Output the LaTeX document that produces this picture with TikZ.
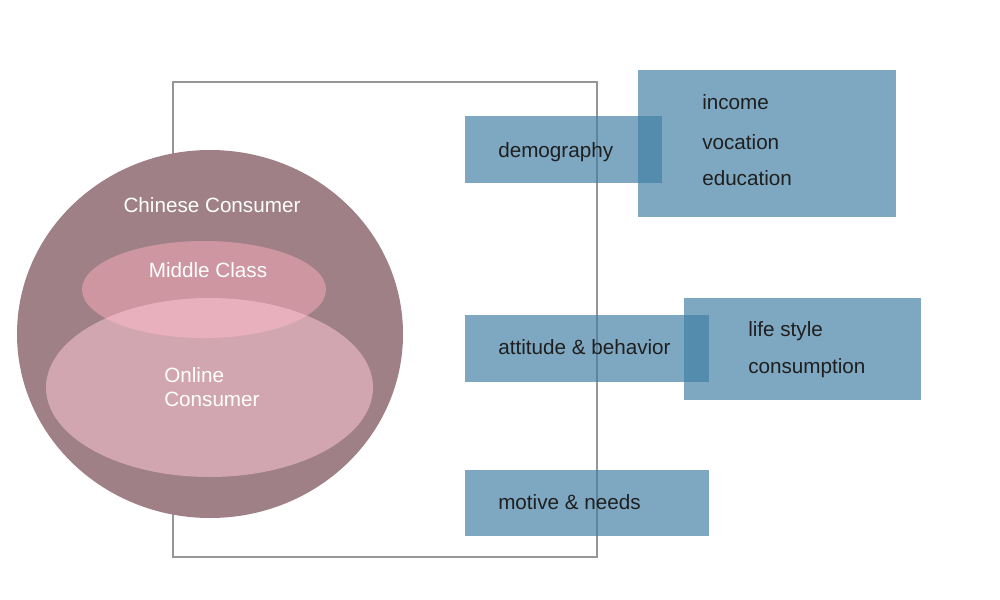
\documentclass[tikz,border=0pt]{standalone}
\usepackage{fontspec}
\setmainfont{Liberation Sans}
\definecolor{consumer}{RGB}{158,128,134}
\definecolor{midclass}{RGB}{205,150,160}
\definecolor{online}{RGB}{254,199,212}
\definecolor{boxblue}{RGB}{65,127,165}
\definecolor{framegray}{RGB}{150,150,150}
\tikzset{box/.style={fill=boxblue, fill opacity=0.68},
         lbl/.style={font=\fontsize{15.5}{18}\selectfont, inner sep=0pt, text=black!88},
         wlbl/.style={lbl, text=white}}

\begin{document}
\begin{tikzpicture}[x=0.75pt,y=-0.75pt]
\useasboundingbox (0,0) rectangle (1000,600);

\draw [framegray, line width=1.2pt] (173,82) rectangle (597,557);

\fill [consumer] (210,334) ellipse [x radius=193, y radius=184];
\fill [midclass] (204,289.5) ellipse [x radius=122, y radius=48.5];
\fill [online, fill opacity=0.55] (209.5,387.5) ellipse [x radius=163.5, y radius=89.5];

\node [wlbl, anchor=base] (chinese) at (212,212) {Chinese Consumer};
\node [wlbl, anchor=base] (middle) at (208,277) {Middle Class};
\node [wlbl, anchor=west, align=left] (onl) at (164,387.5) {Online\\Consumer};

\fill [box] (465,116) rectangle (662,183);
\fill [box] (638,70) rectangle (896,217);
\fill [box] (465,315) rectangle (709,382);
\fill [box] (684,298) rectangle (921,400);
\fill [box] (465,470) rectangle (709,536);

\node [lbl, anchor=base west] (demo) at (498,157) {demography};
\node [lbl, anchor=base west] (income) at (702,109) {income};
\node [lbl, anchor=base west] (vocation) at (702,149) {vocation};
\node [lbl, anchor=base west] (education) at (702,185) {education};
\node [lbl, anchor=base west] (attitude) at (498,354) {attitude \& behavior};
\node [lbl, anchor=base west] (life) at (748,336) {life style};
\node [lbl, anchor=base west] (consumption) at (748,373) {consumption};
\node [lbl, anchor=base west] (motive) at (498,509) {motive \& needs};
\end{tikzpicture}
\end{document}
